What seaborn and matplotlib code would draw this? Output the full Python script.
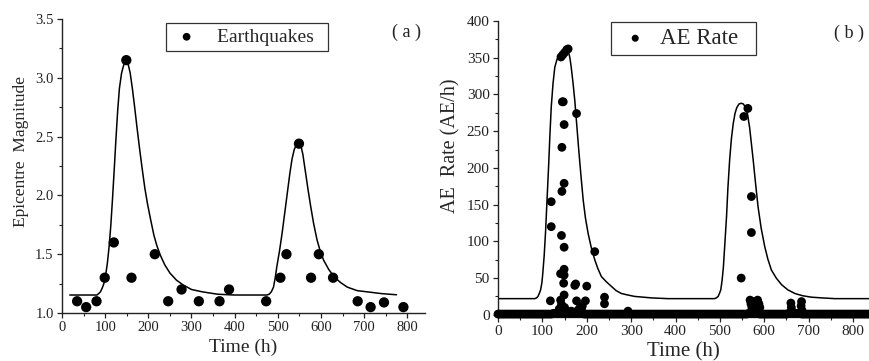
import numpy as np
import pandas as pd
import matplotlib
matplotlib.use("Agg")
import matplotlib.pyplot as plt
from matplotlib.ticker import MultipleLocator
import seaborn as sns

# ── (a) earthquakes: epicentre magnitude vs time ──────────────────────
eq_time = [35, 56, 80, 99, 120, 149, 161, 215, 246, 277, 317, 365, 387,
           473, 506, 520, 549, 577, 595, 628, 685, 715, 746, 791]
eq_mag = [1.10, 1.05, 1.10, 1.30, 1.60, 3.15, 1.30, 1.50, 1.10, 1.20, 1.10,
          1.10, 1.20, 1.10, 1.30, 1.50, 2.44, 1.30, 1.50, 1.30, 1.10, 1.05,
          1.09, 1.05]

# fitted curve
eq_fit_t = [18, 50, 81, 85, 89, 93, 97, 101, 105, 109, 113, 117, 121, 125,
            129, 133, 138, 143, 148, 153, 158, 163, 168, 174, 180, 186, 192,
            198, 205, 213, 220, 228, 238, 250, 265, 280, 300, 325, 360, 398,
            475, 480, 485, 490, 494, 498, 504, 510, 516, 522, 528, 533, 538,
            543, 548, 553, 558, 564, 570, 576, 583, 591, 598, 606, 618, 630,
            645, 661, 684, 707, 740, 775]
eq_fit_m = [1.153, 1.153, 1.153, 1.165, 1.18, 1.21, 1.25, 1.32, 1.42, 1.56,
            1.74, 1.97, 2.22, 2.48, 2.72, 2.91, 3.04, 3.11, 3.14, 3.12, 3.04,
            2.91, 2.76, 2.57, 2.39, 2.22, 2.06, 1.93, 1.80, 1.66, 1.57, 1.49,
            1.41, 1.34, 1.28, 1.24, 1.20, 1.18, 1.16, 1.153,
            1.153, 1.16, 1.18, 1.22, 1.30, 1.40, 1.53, 1.68, 1.85, 2.02,
            2.19, 2.31, 2.39, 2.43, 2.45, 2.43, 2.35, 2.20, 2.05, 1.91, 1.76,
            1.62, 1.53, 1.45, 1.37, 1.31, 1.26, 1.22, 1.19, 1.18, 1.165,
            1.155]

# ── (b) acoustic emission rate vs time ────────────────────────────────
ae_time = [118, 120, 120, 141, 141, 142, 143, 143, 144, 144, 145, 146, 147,
           148, 149, 149, 149, 149, 149, 149, 150, 150, 155, 158, 173, 175,
           177, 177, 184, 190, 197, 200, 218, 240, 240, 293, 548, 554, 563,
           571, 571, 568, 570, 572, 575, 585, 588, 590, 660, 661, 662, 684,
           683, 685, 138, 152, 165, 180, 188]
ae_rate = [19, 120, 154, 56, 20, 351, 108, 14, 228, 168, 290, 354, 290, 43,
           259, 179, 92, 62, 54, 27, 357, 10, 361, 362, 40, 42, 274, 19, 9,
           12, 19, 39, 86, 24, 15, 5, 50, 270, 281, 161, 112, 20, 15, 10, 18,
           20, 15, 10, 16, 10, 5, 18, 12, 6, 8, 6, 5, 6, 7]

# low-rate readings that form the band along the time axis (every 5 h)
band_time = [0, 5, 10, 15, 20, 25, 30, 35, 40, 45, 50, 55, 60, 65, 70, 75,
             80, 85, 90, 95, 100, 105, 110, 115, 120, 125, 130, 135, 140, 145,
             150, 155, 160, 165, 170, 175, 180, 185, 190, 195, 200, 205, 210,
             215, 220, 225, 230, 235, 240, 245, 250, 255, 260, 265, 270, 275,
             280, 285, 290, 295, 300, 305, 310, 315, 320, 325, 330, 335, 340,
             345, 350, 355, 360, 365, 370, 375, 380, 385, 390, 395, 400, 405,
             410, 415, 420, 425, 430, 435, 440, 445, 450, 455, 460, 465, 470,
             475, 480, 485, 490, 495, 500, 505, 510, 515, 520, 525, 530, 535,
             540, 545, 550, 555, 560, 565, 570, 575, 580, 585, 590, 595, 600,
             605, 610, 615, 620, 625, 630, 635, 640, 645, 650, 655, 660, 665,
             670, 675, 680, 685, 690, 695, 700, 705, 710, 715, 720, 725, 730,
             735, 740, 745, 750, 755, 760, 765, 770, 775, 780, 785, 790, 795,
             800, 805, 810, 815, 820, 825, 830, 835]
band_rate = [1, 1, 1, 1, 1, 1, 1, 1, 1, 1, 1, 1, 1, 1, 1, 1, 1, 1, 1, 1, 1,
             1, 1, 1, 1, 2, 2, 2, 2, 2, 2, 2, 2, 2, 2, 2, 2, 2, 2, 1, 1, 1,
             1, 1, 1, 1, 1, 1, 1, 1, 1, 1, 1, 1, 1, 1, 1, 1, 1, 1, 1, 1, 1,
             1, 1, 1, 1, 1, 1, 1, 1, 1, 1, 1, 1, 1, 1, 1, 1, 1, 1, 1, 1, 1,
             1, 1, 1, 1, 1, 1, 1, 1, 1, 1, 1, 1, 1, 1, 1, 1, 1, 1, 1, 1, 1,
             1, 1, 1, 1, 1, 1, 1, 1, 2, 2, 2, 2, 2, 1, 1, 1, 1, 1, 1, 1, 1,
             1, 1, 1, 1, 1, 2, 2, 2, 2, 2, 2, 1, 1, 1, 1, 1, 1, 1, 1, 1, 1,
             1, 1, 1, 1, 1, 1, 1, 1, 1, 1, 1, 1, 1, 1, 1, 1, 1, 1, 1, 1, 1]

ae_fit_t = [0, 40, 83, 87, 90, 93, 96, 99, 101, 104, 107, 110, 114, 117,
            120, 124, 128, 133, 139, 145, 150, 155, 158, 162, 165, 169, 173,
            177, 182, 187, 192, 197, 203, 210, 218, 225, 233, 244, 255, 266,
            278, 292, 308, 346, 383, 488, 492, 496, 499, 502, 505, 508, 511,
            515, 518, 522, 526, 530, 534, 538, 543, 548, 553, 558, 562, 567,
            571, 575, 580, 586, 593, 601, 608, 616, 627, 639, 653, 669, 686,
            706, 730, 759, 800, 836]
ae_fit_r = [22, 22, 22, 23, 25, 29, 34, 44, 57, 80, 111, 150, 202, 245, 283,
            315, 337, 348, 353, 357, 360, 361, 360, 350, 337, 316, 292, 262,
            224, 189, 156, 132, 111, 92, 75, 63, 52, 45, 39, 33, 29, 27, 25,
            23, 22, 22, 23, 25, 29, 34, 47, 66, 95, 134, 172, 211, 240, 260,
            274, 282, 287, 288, 287, 282, 274, 255, 233, 211, 181, 147, 118,
            93, 76, 61, 50, 41, 34, 29, 26, 24, 23, 22, 22, 22]

df_eq = pd.DataFrame({"time": eq_time, "mag": eq_mag})
df_eq_fit = pd.DataFrame({"time": eq_fit_t, "mag": eq_fit_m})
df_ae = pd.DataFrame({"time": band_time + ae_time, "rate": band_rate + ae_rate})
df_ae_fit = pd.DataFrame({"time": ae_fit_t, "rate": ae_fit_r})

sns.set_theme(style="ticks")
plt.rcParams["font.family"] = ["Liberation Serif", "DejaVu Serif"]
plt.rcParams["axes.edgecolor"] = "#222222"
plt.rcParams["axes.linewidth"] = 1.0
for ax_name in ("xtick", "ytick"):
    plt.rcParams[f"{ax_name}.direction"] = "out"
    plt.rcParams[f"{ax_name}.major.size"] = 3.5
    plt.rcParams[f"{ax_name}.minor.size"] = 2.0
    plt.rcParams[f"{ax_name}.major.width"] = 0.9
    plt.rcParams[f"{ax_name}.minor.width"] = 0.8
    plt.rcParams[f"{ax_name}.color"] = "#222222"
    plt.rcParams[f"{ax_name}.labelcolor"] = "#222222"

fig = plt.figure(figsize=(8.69, 3.61), dpi=100)
ax1 = fig.add_axes([62 / 869, 1 - 313 / 361, 363 / 869, 294 / 361])
ax2 = fig.add_axes([498 / 869, 1 - 317 / 361, 371 / 869, 296 / 361])

# ── Panel (a) ─────────────────────────────────────────────────────────
sns.lineplot(data=df_eq_fit, x="time", y="mag", ax=ax1, color="black",
             lw=1.1, sort=False, estimator=None)
sns.scatterplot(data=df_eq, x="time", y="mag", ax=ax1, color="black",
                s=55, edgecolor="none", label="Earthquakes  ", zorder=3,
                clip_on=False)
ax1.set_xlim(0, 841)
ax1.set_ylim(1.0, 3.5)
ax1.xaxis.set_major_locator(MultipleLocator(100))
ax1.xaxis.set_minor_locator(MultipleLocator(50))
ax1.set_yticks([1.0, 1.5, 2.0, 2.5, 3.0, 3.5])
ax1.set_yticklabels(["1.0", "1.5", "2.0", "2.5", "3.0", "3.5"])
ax1.yaxis.set_minor_locator(MultipleLocator(0.25))
ax1.tick_params(labelsize=10.5, pad=2.5)
ax1.set_xlabel("Time (h)", fontsize=14, labelpad=3)
ax1.set_ylabel("Epicentre  Magnitude", fontsize=12.5)
ax1.yaxis.set_label_coords(-0.091, 0.548)
leg1 = ax1.legend(loc="upper left", bbox_to_anchor=(0.287, 0.985),
                  fontsize=14, frameon=True, fancybox=False, edgecolor="black",
                  handletextpad=0.75, borderpad=0.25, handlelength=1.6,
                  markerscale=0.75, borderaxespad=0)
leg1.get_frame().set_linewidth(0.9)
sns.despine(ax=ax1)

# ── Panel (b) ─────────────────────────────────────────────────────────
sns.lineplot(data=df_ae_fit, x="time", y="rate", ax=ax2, color="black",
             lw=1.1, sort=False, estimator=None)
sns.scatterplot(data=df_ae, x="time", y="rate", ax=ax2, color="black",
                s=40, edgecolor="none", label="AE Rate  ", zorder=3,
                clip_on=False)
ax2.set_xlim(0, 836)
ax2.set_ylim(-3, 400)
ax2.xaxis.set_major_locator(MultipleLocator(100))
ax2.xaxis.set_minor_locator(MultipleLocator(50))
ax2.yaxis.set_major_locator(MultipleLocator(50))
ax2.yaxis.set_minor_locator(MultipleLocator(25))
ax2.tick_params(labelsize=11, pad=2.5)
ax2.set_xlabel("Time (h)", fontsize=15, labelpad=3)
ax2.set_ylabel("AE  Rate (AE/h)", fontsize=14.5)
ax2.yaxis.set_label_coords(-0.100, 0.578)
leg2 = ax2.legend(loc="upper left", bbox_to_anchor=(0.305, 0.995),
                  fontsize=16.5, frameon=True, fancybox=False, edgecolor="black",
                  handletextpad=0.3, borderpad=0.25, handlelength=1.6,
                  markerscale=0.8, borderaxespad=0)
leg2.get_frame().set_linewidth(0.9)
sns.despine(ax=ax2)

fig.text(407 / 869, 1 - 32 / 361, "( a )", fontsize=13, ha="center",
         va="center", color="#222222")
fig.text(849 / 869, 1 - 33 / 361, "( b )", fontsize=13, ha="center",
         va="center", color="#222222")

fig.savefig("out.png", dpi=100)
